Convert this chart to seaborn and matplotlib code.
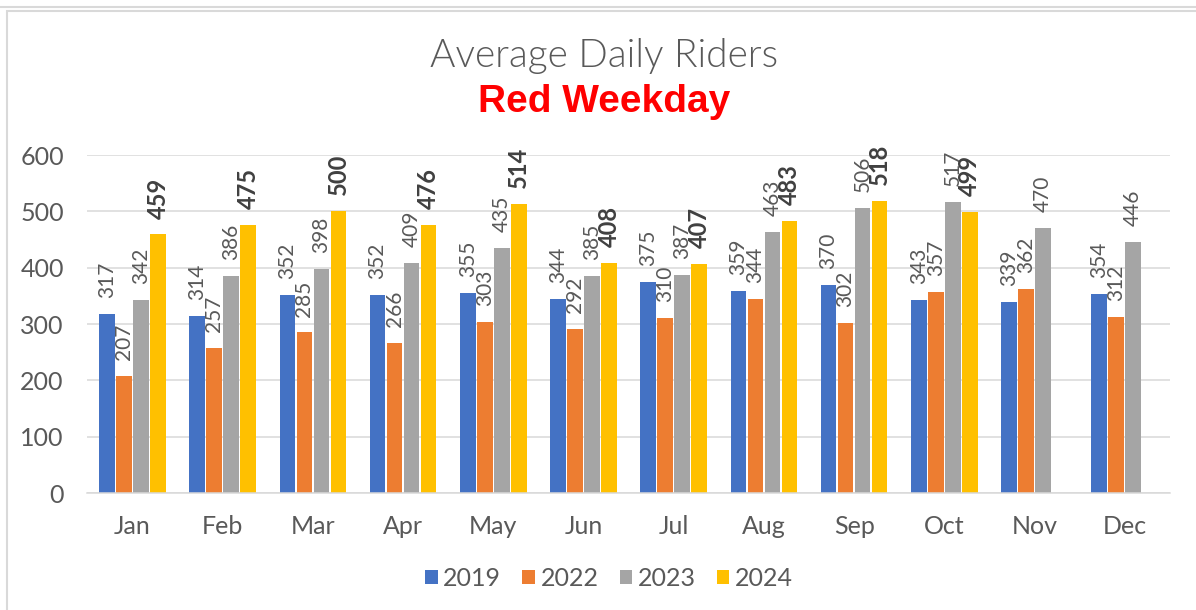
import numpy as np
import pandas as pd
import matplotlib.pyplot as plt
import seaborn as sns
from matplotlib.lines import Line2D
from matplotlib.patches import Rectangle

months = ['Jan', 'Feb', 'Mar', 'Apr', 'May', 'Jun', 'Jul', 'Aug', 'Sep', 'Oct', 'Nov', 'Dec']
years = ['2019', '2022', '2023', '2024']
riders_2019 = [317, 314, 352, 352, 355, 344, 375, 359, 370, 343, 339, 354]
riders_2022 = [207, 257, 285, 266, 303, 292, 310, 344, 302, 357, 362, 312]
riders_2023 = [342, 386, 398, 409, 435, 385, 387, 463, 506, 517, 470, 446]
riders_2024 = [459, 475, 500, 476, 514, 408, 407, 483, 518, 499, np.nan, np.nan]
colors = ['#4472C4', '#ED7D31', '#A5A5A5', '#FFC000']

sns.set_style('white')
plt.rcParams['font.family'] = ['Lato', 'DejaVu Sans']

df = pd.DataFrame({
    'month': months * 4,
    'year': np.repeat(years, 12),
    'riders': riders_2019 + riders_2022 + riders_2023 + riders_2024,
})

fig = plt.figure(figsize=(11.96, 6.10), dpi=100)
ax = fig.add_axes([0.0731, 0.1918, 0.905, 0.554])

sns.barplot(data=df, x='month', y='riders', hue='year', palette=colors,
            saturation=1, width=0.754, gap=0.09, linewidth=0, errorbar=None, ax=ax)

# data labels, 2024 in bold
for i, cont in enumerate(ax.containers):
    labels = ['' if np.isnan(v) else f'{v:.0f}' for v in cont.datavalues]
    if years[i] == '2024':
        ax.bar_label(cont, labels=labels, rotation=90, padding=11.5, fontsize=17,
                     fontweight='bold', color='#404040', clip_on=False)
    else:
        ax.bar_label(cont, labels=labels, rotation=90, padding=11.5, fontsize=15,
                     color='#595959', family=['Liberation Sans Narrow', 'Lato'], clip_on=False)

ax.set_ylim(0, 600)
ax.set_yticks(range(0, 601, 100))
ax.set_xlim(-0.5, 11.5)
ax.set_xlabel('')
ax.set_ylabel('')
ax.grid(axis='y', color='#D9D9D9', linewidth=1.1)
ax.set_axisbelow(True)
sns.despine(ax=ax, left=True)
ax.spines['bottom'].set_color('#D9D9D9')
ax.spines['bottom'].set_linewidth(1.1)
ax.tick_params(axis='both', length=0, labelsize=18, labelcolor='#595959')
ax.tick_params(axis='y', pad=17)
ax.tick_params(axis='x', pad=16)

handles, labels = ax.get_legend_handles_labels()
ax.legend_.remove()
fig.legend(handles, labels, loc='center', bbox_to_anchor=(609 / 1196, 1 - 578 / 610),
           ncol=4, frameon=False, fontsize=18, labelcolor='#595959',
           handlelength=0.5, handleheight=0.5, handletextpad=0.22, columnspacing=0.85)

fig.text(604 / 1196, 1 - 67 / 610, 'Average Daily Riders', ha='center', va='baseline',
         fontsize=28, fontweight=300, color='#595959')
fig.text(604 / 1196, 1 - 112 / 610, 'Red Weekday', ha='center', va='baseline',
         fontsize=28, fontweight='bold', color='#FF0000', family='Liberation Sans')

# chart frame
fig.add_artist(Line2D([0, 1], [1 - 7 / 610, 1 - 7 / 610], color='#D9D9D9', linewidth=1.5))
fig.add_artist(Rectangle((7 / 1196, -0.05), 1.1, 1.05 - 11 / 610, fill=False,
                         edgecolor='#D9D9D9', linewidth=1.5))

fig.savefig('out.png', dpi=100)
